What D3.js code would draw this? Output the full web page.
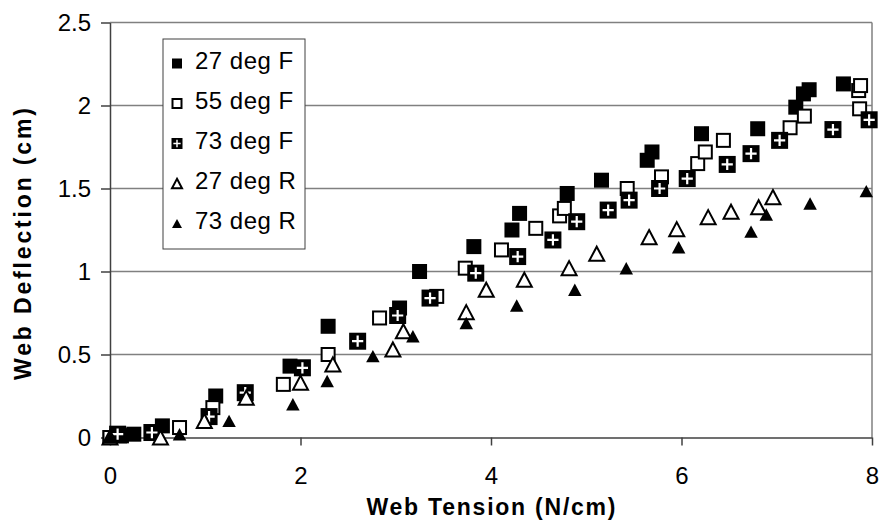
<!DOCTYPE html>
<html>
<head>
<meta charset="utf-8">
<script src="https://cdn.jsdelivr.net/npm/d3@7"></script>
<style>
  body { margin: 0; background: #fff; }
  svg text { font-family: "Liberation Sans", Arial, sans-serif; fill: #000; }
</style>
</head>
<body>
<div id="drawing"></div>
<script>
// data: [web tension N/cm, web deflection cm]
const seriesNames = ["27 deg F", "55 deg F", "73 deg F", "27 deg R", "73 deg R"];
const xTicks = [0, 2, 4, 6, 8];
const yTicks = [0, 0.5, 1, 1.5, 2, 2.5];

const f27 = [[0,0],[0.12,0.01],[0.25,0.02],[0.55,0.07],[1.11,0.25],[1.89,0.43],[2.29,0.67],
  [3.04,0.78],[3.25,1.0],[3.82,1.15],[4.22,1.25],[4.3,1.35],[4.8,1.47],[5.16,1.55],[5.64,1.67],
  [5.69,1.72],[6.21,1.83],[6.8,1.86],[7.2,1.99],[7.28,2.07],[7.34,2.095],[7.7,2.13]];
const f55 = [[0,0],[0.1,0.01],[0.73,0.06],[1.08,0.18],[1.82,0.32],[2.29,0.5],[2.83,0.72],
  [3.43,0.85],[3.73,1.02],[4.11,1.13],[4.47,1.26],[4.72,1.335],[4.77,1.38],[5.43,1.5],[5.79,1.57],
  [6.17,1.65],[6.25,1.72],[6.44,1.79],[7.14,1.866],[7.29,1.936],[7.87,1.98],[7.86,2.09],[7.88,2.12]];
const f73 = [[0.08,0.02],[0.44,0.03],[1.04,0.126],[1.42,0.27],[2.02,0.42],[2.6,0.58],[3.02,0.735],
  [3.36,0.84],[3.84,0.99],[4.28,1.09],[4.65,1.19],[4.9,1.3],[5.23,1.37],[5.45,1.43],[5.77,1.5],
  [6.06,1.56],[6.48,1.645],[6.73,1.71],[7.03,1.79],[7.59,1.855],[7.97,1.914]];
const r27 = [[0,0],[0.53,0.0],[0.99,0.1],[1.43,0.24],[2.0,0.33],[2.34,0.44],[2.97,0.53],[3.08,0.64],
  [3.74,0.755],[3.95,0.89],[4.35,0.95],[4.82,1.02],[5.11,1.107],[5.66,1.207],[5.95,1.255],
  [6.28,1.327],[6.52,1.36],[6.81,1.387],[6.96,1.448]];
const r73 = [[0,0],[0.73,0.02],[1.25,0.1],[1.92,0.2],[2.28,0.34],[2.76,0.49],[3.18,0.61],[3.74,0.69],
  [4.27,0.795],[4.88,0.89],[5.42,1.02],[5.97,1.146],[6.73,1.24],[6.89,1.343],[7.35,1.41],[7.94,1.484]];

const width = 881;
const height = 523;
const margin = {top: 22.5, right: 9, bottom: 85.5, left: 110};
const plotW = width - margin.left - margin.right;
const plotH = height - margin.top - margin.bottom;

const svg = d3.select("#drawing").append("svg")
  .attr("width", width)
  .attr("height", height)
  .style("background", "#fff");

const plot = svg.append("g")
  .attr("transform", `translate(${margin.left}, ${margin.top})`);

const xScale = d3.scaleLinear().domain([0, 8]).range([0, plotW]);
const yScale = d3.scaleLinear().domain([0, 2.5]).range([plotH, 0]);

// gridlines + plot border
plot.selectAll(".grid")
  .data(yTicks.filter(d => d > 0))
  .join("line")
  .attr("x1", 0).attr("x2", plotW)
  .attr("y1", d => yScale(d)).attr("y2", d => yScale(d))
  .style("stroke", "#808080").style("stroke-width", 1.5);

plot.append("line")
  .attr("x1", plotW).attr("x2", plotW)
  .attr("y1", 0).attr("y2", plotH)
  .style("stroke", "#808080").style("stroke-width", 1.5);

// axes
const yAxis = plot.append("g")
  .call(d3.axisLeft(yScale).tickValues(yTicks).tickSize(9).tickSizeOuter(0)
    .tickPadding(10).tickFormat(d => String(d)));
const xAxis = plot.append("g")
  .attr("transform", `translate(0, ${plotH})`)
  .call(d3.axisBottom(xScale).tickValues(xTicks).tickSize(8).tickSizeOuter(0)
    .tickPadding(21).tickFormat(d => String(d)));

[xAxis, yAxis].forEach(ax => {
  ax.selectAll("path, line").style("stroke", "#404040").style("stroke-width", 1.5);
  ax.selectAll("text").style("font-size", "24px").style("fill", "#000");
  ax.attr("font-family", null);
});

// marker shapes
function drawMarker(g, shape, s) {
  if (shape === "fillSquare") {
    g.append("rect").attr("x", -s / 2).attr("y", -s / 2).attr("width", s).attr("height", s)
      .style("fill", "#000");
  } else if (shape === "openSquare") {
    g.append("rect").attr("x", -s / 2 + 1).attr("y", -s / 2 + 1).attr("width", s - 2).attr("height", s - 2)
      .style("fill", "#fff").style("stroke", "#000").style("stroke-width", 2);
  } else if (shape === "plusSquare") {
    g.append("rect").attr("x", -s / 2).attr("y", -s / 2).attr("width", s).attr("height", s)
      .style("fill", "#000");
    const a = s * 0.33;
    g.append("path").attr("d", `M${-a},0H${a}M0,${-a}V${a}`)
      .style("stroke", "#fff").style("stroke-width", s * 0.13);
  } else if (shape === "openTriangle") {
    const w = s, h = s * 0.95;
    g.append("path").attr("d", `M0,${-h / 2 + 1}L${w / 2 - 1},${h / 2 - 1}L${-w / 2 + 1},${h / 2 - 1}Z`)
      .style("fill", "#fff").style("stroke", "#000").style("stroke-width", 2)
      .style("stroke-linejoin", "miter");
  } else if (shape === "fillTriangle") {
    const w = s, h = s * 0.92;
    g.append("path").attr("d", `M0,${-h / 2}L${w / 2},${h / 2}L${-w / 2},${h / 2}Z`)
      .style("fill", "#000");
  }
}

const series = [
  {name: seriesNames[0], data: f27, shape: "fillSquare", size: 15, key: 10},
  {name: seriesNames[1], data: f55, shape: "openSquare", size: 15, key: 11},
  {name: seriesNames[2], data: f73, shape: "plusSquare", size: 17, key: 11},
  {name: seriesNames[3], data: r27, shape: "openTriangle", size: 17, key: 12},
  {name: seriesNames[4], data: r73, shape: "fillTriangle", size: 13.5, key: 10}
];

series.forEach(sr => {
  plot.append("g").selectAll("g")
    .data(sr.data)
    .join("g")
    .attr("transform", d => `translate(${xScale(d[0])}, ${yScale(d[1])})`)
    .each(function() { drawMarker(d3.select(this), sr.shape, sr.size); });
});

// axis titles
svg.append("text")
  .attr("x", margin.left + plotW / 2)
  .attr("y", 515)
  .attr("text-anchor", "middle")
  .attr("textLength", 249).attr("lengthAdjust", "spacing")
  .style("font-size", "23px").style("font-weight", "bold")
  .text("Web Tension (N/cm)");

svg.append("text")
  .attr("transform", "translate(31, 244) rotate(-90)")
  .attr("text-anchor", "middle")
  .attr("textLength", 272).attr("lengthAdjust", "spacing")
  .style("font-size", "23px").style("font-weight", "bold")
  .text("Web Deflection (cm)");

// legend
const legend = svg.append("g").attr("transform", "translate(163, 39)");
legend.append("rect")
  .attr("x", 0).attr("y", 0).attr("width", 142).attr("height", 210)
  .style("fill", "#fff").style("stroke", "#404040").style("stroke-width", 1);

const rows = legend.selectAll(".row")
  .data(series)
  .join("g")
  .attr("transform", (d, i) => `translate(0, ${29.5 + i * 40})`);

rows.append("g")
  .attr("transform", "translate(14, -5)")
  .each(function(d) { drawMarker(d3.select(this), d.shape, d.key); });

rows.append("text")
  .attr("x", 32)
  .attr("y", 0)
  .style("font-size", "24px")
  .style("letter-spacing", "0.5px")
  .text(d => d.name);
</script>
</body>
</html>
